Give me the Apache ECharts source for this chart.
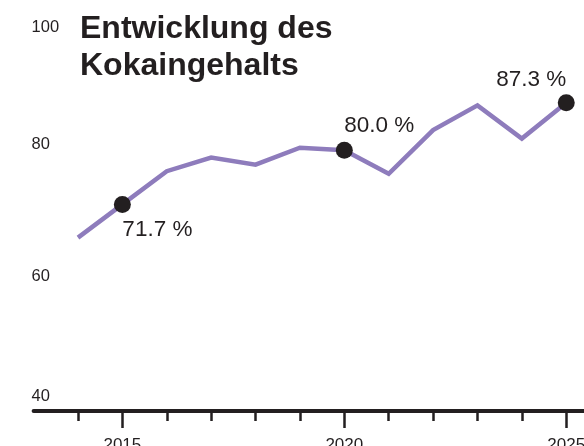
<!DOCTYPE html>
<html>
<head>
<meta charset="utf-8">
<script src="https://cdn.jsdelivr.net/npm/echarts@6/dist/echarts.min.js"></script>
<style>
  html, body { margin: 0; padding: 0; background: #fff; }
  #chart { width: 584px; height: 446px; }
</style>
</head>
<body>
<div id="chart"></div>
<script>
// values (cocaine purity, %)
const years = [2014, 2015, 2016, 2017, 2018, 2019, 2020, 2021, 2022, 2023, 2024, 2025];
const purity = [66.6, 71.7, 76.8, 78.9, 77.8, 80.4, 80.0, 76.4, 83.1, 86.9, 81.8, 87.3];
const markedYears = [2015, 2020, 2025];
const yTicks = [40, 60, 80, 100];
const titleText = 'Entwicklung des\nKokaingehalts';

const font = '"Liberation Sans", Arial, Helvetica, sans-serif';
const ink = '#231f20';

const lineData = years.map((y, i) => [y, purity[i]]);
const dotData = markedYears.map(y => {
    const v = purity[years.indexOf(y)];
    const last = y === markedYears[markedYears.length - 1];
    return {
        value: [y, v],
        label: {
            align: last ? 'right' : 'left',
            offset: y === 2015 ? [0, 25] : [0, last ? -23 : -25]
        }
    };
});

// y labels in the reference sit a little off their gridline values
const yLabelPad = {
    100: [14, 0, 0, 0],
    80: [0, 0, 11, 0],
    60: [0, 0, 8, 0],
    40: [0, 0, 29, 0]
};
const rich = {};
yTicks.forEach(t => {
    rich['l' + t] = { fontFamily: font, fontSize: 16.5, color: ink, padding: yLabelPad[t] };
});

const chart = echarts.init(document.getElementById('chart'));
chart.setOption({
    backgroundColor: '#fff',
    animation: false,
    title: {
        text: titleText,
        left: 80,
        top: 11,
        padding: 0,
        textStyle: {
            fontFamily: font,
            fontSize: 32,
            fontWeight: 'bold',
            lineHeight: 37,
            color: ink
        }
    },
    grid: { left: 33.6, right: 0, top: 20, bottom: 35, outerBoundsMode: 'none' },
    xAxis: [{
        type: 'value',
        min: 2013,
        max: 2025.4,
        position: 'bottom',
        axisLine: { show: true, lineStyle: { color: ink, width: 4 } },
        axisTick: {
            show: true,
            customValues: years,
            length: 10,
            lineStyle: { color: ink, width: 2.5 }
        },
        axisLabel: { show: false },
        splitLine: { show: false }
    }, {
        type: 'value',
        min: 2013,
        max: 2025.4,
        position: 'bottom',
        axisLine: { show: false },
        axisTick: {
            show: true,
            customValues: markedYears,
            length: 17,
            lineStyle: { color: ink, width: 2.5 }
        },
        axisLabel: {
            customValues: markedYears,
            formatter: v => String(v),
            margin: 26,
            hideOverlap: false,
            fontFamily: font,
            fontSize: 17,
            color: ink
        },
        splitLine: { show: false }
    }],
    yAxis: {
        type: 'value',
        min: 40,
        max: 100,
        interval: 20,
        axisLine: { show: false },
        axisTick: { show: false },
        splitLine: { show: false },
        axisLabel: {
            inside: true,
            margin: -2,
            formatter: v => '{l' + v + '|' + v + '}',
            rich: rich
        }
    },
    series: [{
        type: 'line',
        xAxisIndex: 0,
        data: lineData,
        symbol: 'none',
        lineStyle: { color: '#8e7cbc', width: 4.5, join: 'miter' },
        z: 2
    }, {
        type: 'scatter',
        xAxisIndex: 0,
        data: dotData,
        symbolSize: 17,
        itemStyle: { color: ink, opacity: 1 },
        label: {
            show: true,
            position: 'inside',
            verticalAlign: 'middle',
            formatter: p => p.value[1].toFixed(1) + ' %',
            fontFamily: font,
            fontSize: 22.5,
            color: ink
        },
        z: 3
    }]
});
</script>
</body>
</html>
